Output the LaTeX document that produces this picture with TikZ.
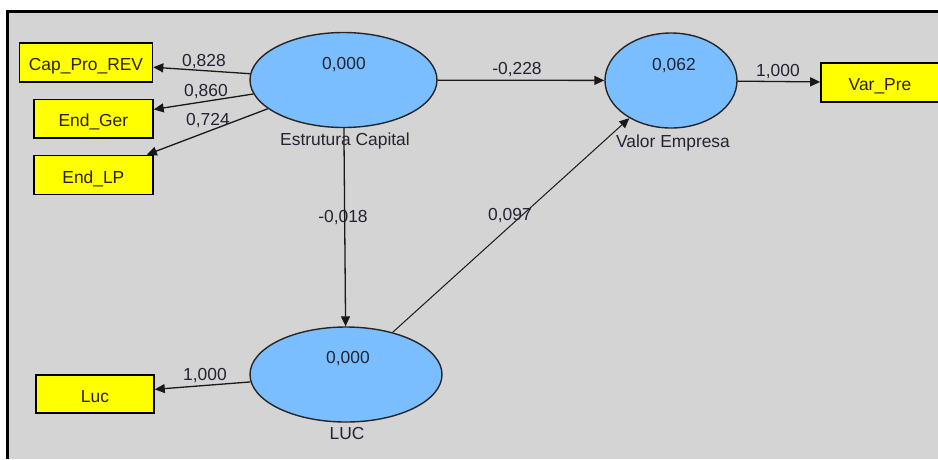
\documentclass[tikz,border=0pt]{standalone}
\usepackage{fontspec}
\setmainfont{Liberation Sans}
\usetikzlibrary{arrows.meta,shapes.geometric}
\definecolor{canvas}{RGB}{212,212,212}
\definecolor{latent}{RGB}{122,190,255}
\definecolor{indicator}{RGB}{255,255,0}
\definecolor{ink}{RGB}{35,35,50}
\definecolor{boxink}{RGB}{45,35,0}
\begin{document}
\begin{tikzpicture}[x=1pt,y=-1pt,
  latentvar/.style={ellipse, draw=black!85, line width=1.4pt, fill=latent, inner sep=0pt},
  indbox/.style={rectangle, draw=black, line width=1.6pt, fill=indicator, inner sep=0pt,
    text height=16.8pt, text depth=0.5pt, font=\fontsize{17.4}{20}\selectfont, text=boxink},
  pathline/.style={-{Triangle[length=10pt,width=9pt]}, line width=1.3pt, draw=black!90},
  coef/.style={anchor=base, inner sep=0pt, font=\fontsize{17.4}{20}\selectfont, text=ink}]
  % canvas and frame
  \useasboundingbox (0,0) rectangle (938,459);
  \fill[white] (0,0) rectangle (938,459);
  \fill[canvas] (7.5,11) rectangle (938,459);
  \draw[line width=3pt] (7.5,459) -- (7.5,11) -- (938,11);

  % latent variables
  \node[latentvar, minimum width=187pt, minimum height=95pt] (ec) at (343.5,80) {};
  \node[latentvar, minimum width=132pt, minimum height=95pt] (ve) at (671,80.5) {};
  \node[latentvar, minimum width=192pt, minimum height=95pt] (luc) at (346,374.5) {};

  % indicators
  \node[indbox, minimum width=133pt, minimum height=39pt] (cpr) at (86,62.7) {Cap\_Pro\_REV};
  \node[indbox, minimum width=119pt, minimum height=38.5pt] (eg) at (93.4,118.8) {End\_Ger};
  \node[indbox, minimum width=119pt, minimum height=39pt] (elp) at (93.4,175) {End\_LP};
  \node[indbox, minimum width=118pt, minimum height=39pt] (vp) at (880,82.5) {Var\_Pre};
  \node[indbox, minimum width=118pt, minimum height=38.5pt] (lc) at (95,394) {Luc};

  % paths
  \draw[pathline] (ec) -- (cpr);
  \draw[pathline] (ec) -- (eg);
  \draw[pathline] (ec) -- (elp);
  \draw[pathline] (ec) -- (ve);
  \draw[pathline] (ve) -- (vp);
  \draw[pathline] (ec) -- (luc);
  \draw[pathline, line width=1pt] (luc) -- (ve);
  \draw[pathline] (luc) -- (lc);

  % R-squared values and construct names
  \node[coef] (ecval) at (344,69) {0,000};
  \node[coef] (ecname) at (345,145.7) {Estrutura Capital};
  \node[coef] (veval) at (674,70.7) {0,062};
  \node[coef] (vename) at (673,147) {Valor Empresa};
  \node[coef] (lucval) at (348,363.5) {0,000};
  \node[coef] (lucname) at (347,439) {LUC};

  % path coefficients and loadings
  \node[coef] (l1) at (204,66.7) {0,828};
  \node[coef] (l2) at (206,96.7) {0,860};
  \node[coef] (l3) at (208,125) {0,724};
  \node[coef] (p1) at (517,74) {-0,228};
  \node[coef] (l4) at (778,76) {1,000};
  \node[coef] (p2) at (343,222.7) {-0,018};
  \node[coef] (p3) at (510,220) {0,097};
  \node[coef] (l5) at (205,380) {1,000};
\end{tikzpicture}
\end{document}
